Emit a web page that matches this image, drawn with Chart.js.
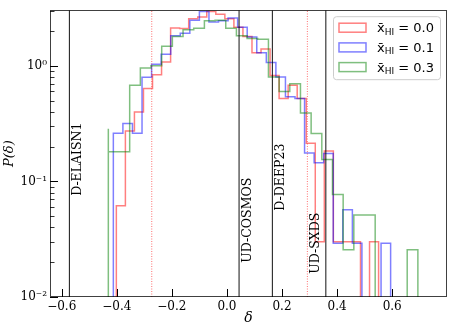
<!DOCTYPE html>
<html><head><meta charset="utf-8">
<script src="https://cdn.jsdelivr.net/npm/chart.js@4/dist/chart.umd.min.js"></script>
<style>html,body{margin:0;padding:0;background:#fff}#wrap{width:450px;height:330px}</style>
</head><body><div id="wrap"><canvas id="c" width="450" height="330"></canvas></div>
<script>
// ---------------- data ----------------
const seriesLabels = ['0.0', '0.1', '0.3'];
const redRange   = [-0.4016, 0.5834];   // histogram range (30 equal bins)
const blueRange  = [-0.4125, 0.6290];
const greenRange = [-0.4307, 0.7320];
const redValues = [0.0615, 0.0615, 0.273, 0.398, 0.636, 0.839, 1.08, 2.13, 2.10, 2.56,
                   2.65, 2.95, 2.80, 2.56, 2.16, 1.79, 1.30, 1.40, 0.823, 0.523,
                   0.678, 0.523, 0.214, 0.0301, 0.183, 0.0301, 0.0301, 0.0301, 0, 0.0301];
const blueValues = [0.0862, 0.261, 0.317, 0.261, 0.796, 1.03, 1.26, 1.82, 1.91, 2.48,
                    2.95, 2.40, 2.45, 2.59, 2.16, 1.78, 1.30, 1.07, 0.80, 0.54,
                    0.523, 0.176, 0.145, 0.174, 0.0292, 0.0569, 0.0292, 0, 0, 0.0292];
const greenValues = [0.286, 0.181, 0.181, 0.678, 0.96, 1.00, 1.48, 1.79, 2.05, 2.12,
                     2.45, 2.48, 2.11, 1.82, 1.72, 1.70, 0.80, 0.60, 0.70, 0.39,
                     0.26, 0.155, 0.077, 0.0256, 0.0513, 0.0513, 0, 0, 0, 0.0256];
const fieldNames   = ['D-ELAISN1', 'UD-COSMOS', 'D-DEEP23', 'UD-SXDS'];
const fieldDeltas  = [-0.572, 0.044, 0.165, 0.359];
const fieldLabelX  = [-0.572, 0.044, 0.165, 0.292];
const fieldLabelY  = [0.075, 0.0198, 0.0558, 0.0159];
const dottedDeltas = [-0.273, 0.292];
const xTickValues = [-0.6, -0.4, -0.2, 0, 0.2, 0.4, 0.6];
const yTickValues = [0.01, 0.1, 1];
const yTickLabels = ['10\u207B\u00B2', '10\u207B\u00B9', '10\u2070'];
const yMinorTicks = [0.02,0.03,0.04,0.05,0.06,0.07,0.08,0.09,0.2,0.3,0.4,0.5,0.6,0.7,0.8,0.9,2,3];
const xRange = [-0.6425, 0.799];
const yRange = [0.01, 3.03];

// ---------------- build ----------------
const FLOOR = 1e-4;
const colors = ['rgba(255,0,0,0.5)', 'rgba(0,0,255,0.5)', 'rgba(0,128,0,0.5)'];
function histPoints(range, values) {
  const w = (range[1] - range[0]) / values.length;
  const pts = [{x: range[0], y: FLOOR}];
  values.forEach((v, i) => pts.push({x: range[0] + i * w, y: v > 0 ? v : FLOOR}));
  pts.push({x: range[1], y: FLOOR});
  return pts;
}
const histSets = [[redRange, redValues], [blueRange, blueValues], [greenRange, greenValues]].map((d, i) => ({
  label: seriesLabels[i], data: histPoints(d[0], d[1]), stepped: 'after',
  borderColor: colors[i], borderWidth: 1.5, fill: false, pointRadius: 0, order: 3 - i
}));
const vlineSets = fieldDeltas.map(d => ({
  data: [{x: d, y: yRange[0]}, {x: d, y: yRange[1]}], borderColor: 'rgba(0,0,0,0.85)',
  borderWidth: 1.1, pointRadius: 0, fill: false, order: 0
}));
const dotSets = dottedDeltas.map(d => ({
  data: [{x: d, y: yRange[0]}, {x: d, y: yRange[1]}], borderColor: 'rgba(255,0,0,0.7)',
  borderWidth: 0.8, borderDash: [1, 1.5], pointRadius: 0, fill: false, order: 0
}));

function fmtX(v) { return (v < -1e-9 ? '\u2212' : '') + Math.abs(v).toFixed(1); }

const decor = {
  id: 'decor',
  afterDatasetsDraw(chart) {
    const {ctx, chartArea: a, scales: {x, y}} = chart;
    ctx.save();
    // field labels
    ctx.font = '12.5px "DejaVu Serif"';
    ctx.fillStyle = '#000'; ctx.textAlign = 'left'; ctx.textBaseline = 'alphabetic';
    fieldNames.forEach((n, i) => {
      const px = x.getPixelForValue(fieldLabelX[i]) + 12;
      const py = y.getPixelForValue(fieldLabelY[i]);
      ctx.save(); ctx.translate(px, py); ctx.rotate(-Math.PI / 2); ctx.fillText(n, 0, 0); ctx.restore();
    });
    // ticks
    ctx.strokeStyle = '#000'; ctx.lineWidth = 1;
    ctx.beginPath();
    xTickValues.forEach(v => { const px = Math.round(x.getPixelForValue(v)) + 0.5; ctx.moveTo(px, a.bottom); ctx.lineTo(px, a.bottom - 8); });
    yTickValues.forEach(v => { const py = Math.round(y.getPixelForValue(v)) + 0.5; ctx.moveTo(a.left, py); ctx.lineTo(a.left + 8, py); });
    ctx.stroke();
    ctx.lineWidth = 0.8; ctx.beginPath();
    yMinorTicks.forEach(v => { const py = Math.round(y.getPixelForValue(v)) + 0.5; if (py > a.top) { ctx.moveTo(a.left, py); ctx.lineTo(a.left + 4.5, py); } });
    ctx.stroke();
    // frame
    ctx.strokeStyle = 'rgba(0,0,0,0.75)'; ctx.lineWidth = 1;
    ctx.strokeRect(Math.round(a.left) + 0.5, Math.round(a.top) + 0.5, Math.round(a.right - a.left) - 1, Math.round(a.bottom - a.top) - 1);
    // legend
    const lx = a.right - 113.5, ly = a.top + 6.5, lw = 107, lh = 63, r = 3;
    ctx.beginPath();
    ctx.moveTo(lx + r, ly); ctx.lineTo(lx + lw - r, ly); ctx.arcTo(lx + lw, ly, lx + lw, ly + r, r);
    ctx.lineTo(lx + lw, ly + lh - r); ctx.arcTo(lx + lw, ly + lh, lx + lw - r, ly + lh, r);
    ctx.lineTo(lx + r, ly + lh); ctx.arcTo(lx, ly + lh, lx, ly + lh - r, r);
    ctx.lineTo(lx, ly + r); ctx.arcTo(lx, ly, lx + r, ly, r); ctx.closePath();
    ctx.fillStyle = 'rgba(255,255,255,0.8)'; ctx.fill();
    ctx.strokeStyle = '#cccccc'; ctx.lineWidth = 1; ctx.stroke();
    seriesLabels.forEach((lab, i) => {
      const cy = ly + 11 + i * 19.7;
      ctx.strokeStyle = colors[i]; ctx.lineWidth = 1.5;
      ctx.strokeRect(lx + 5.5, cy - 4.5, 27, 9);
      ctx.fillStyle = '#000'; ctx.textAlign = 'left'; ctx.textBaseline = 'alphabetic';
      let tx = lx + 43.5;
      ctx.font = '13px "DejaVu Sans"';
      ctx.fillText('x\u0304', tx, cy + 4.5); tx += ctx.measureText('x').width;
      ctx.font = '9px "DejaVu Sans"';
      ctx.fillText('HI', tx, cy + 7); tx += ctx.measureText('HI').width;
      ctx.font = '13px "DejaVu Sans"';
      ctx.fillText(' = ' + lab, tx, cy + 4.5);
    });
    ctx.restore();
  }
};

new Chart(document.getElementById('c'), {
  type: 'line',
  data: {datasets: [...histSets, ...vlineSets, ...dotSets]},
  options: {
    responsive: false, animation: false, devicePixelRatio: 1,
    layout: {padding: {top: 3, right: 3, left: 0, bottom: 0}},
    plugins: {legend: {display: false}, tooltip: {enabled: false}},
    elements: {point: {radius: 0}, line: {tension: 0}},
    scales: {
      x: {
        type: 'linear', min: xRange[0], max: xRange[1],
        grid: {display: false, drawTicks: false}, border: {display: false},
        afterBuildTicks: s => { s.ticks = xTickValues.map(v => ({value: v})); },
        afterFit: s => { s.height = 33; },
        ticks: {font: {family: 'DejaVu Serif', size: 12}, color: '#000', padding: 3, maxRotation: 0, autoSkip: false, callback: v => fmtX(v)},
        title: {display: true, text: '\u03B4', color: '#000', font: {family: 'DejaVu Serif', size: 14, style: 'italic'}, padding: {top: 0, bottom: 3}}
      },
      y: {
        type: 'logarithmic', min: yRange[0], max: yRange[1],
        grid: {display: false, drawTicks: false}, border: {display: false},
        afterBuildTicks: s => { s.ticks = yTickValues.map(v => ({value: v})); },
        afterFit: s => { s.width = 50; },
        ticks: {font: {family: 'DejaVu Serif', size: 12}, color: '#000', padding: 3, autoSkip: false, callback: (v, i) => yTickLabels[i]},
        title: {display: true, text: 'P(\u03B4)', color: '#000', font: {family: 'DejaVu Serif', size: 13, style: 'italic'}, padding: {top: 2, bottom: 0}}
      }
    }
  },
  plugins: [decor]
});
</script></body></html>
